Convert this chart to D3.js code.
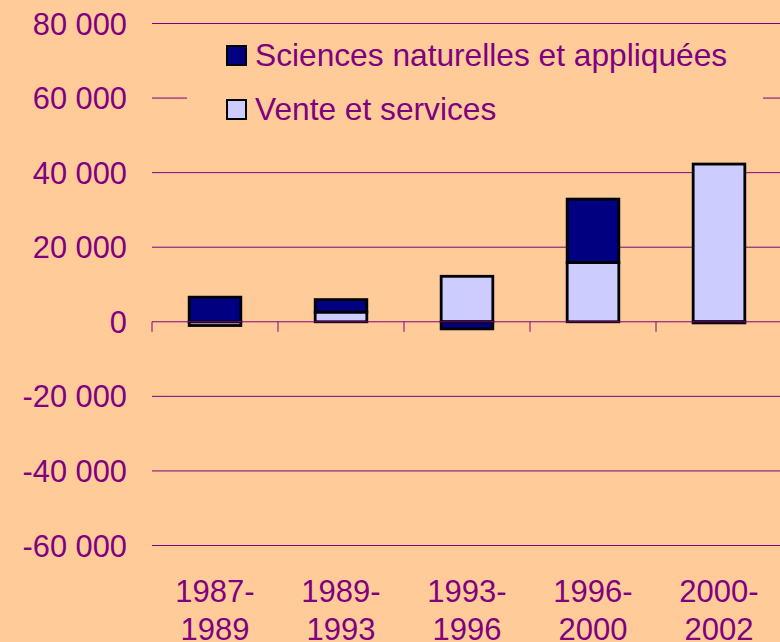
<!DOCTYPE html>
<html><head><meta charset="utf-8">
<script src="https://cdn.jsdelivr.net/npm/d3@7"></script>
<style>
html,body{margin:0;padding:0;background:#FFCC99;overflow:hidden}
svg{display:block;font-family:"Liberation Sans",Arial,sans-serif}
</style></head><body>
<svg id="c" width="780" height="642"></svg>
<script>
const categories = ["1987-1989","1989-1993","1993-1996","1996-2000","2000-2002"];
const sciences = [6600, 3350, -1900, 17000, -300];
const vente = [-1000, 2600, 12200, 15900, 42300];
const yTicks = [80000, 60000, 40000, 20000, 0, -20000, -40000, -60000];
const seriesNames = ["Sciences naturelles et appliquées", "Vente et services"];

const svg = d3.select("#c");
const purple = "#800080";
const navy = "#000080";
const lilac = "#CCCCFF";

const y = d3.scaleLinear().domain([-60000, 80000]).range([545.5, 23.5]);
const x = d3.scaleBand().domain(categories).range([152, 782]).padding(0);
const barW = x.bandwidth() * 0.41;

const fmt = v => v === 0 ? "0" : (v < 0 ? "-" : "") + d3.format(",")(Math.abs(v)).replace(/,/g, " ");

// gridlines
svg.append("g").selectAll("line").data(yTicks.filter(v => v !== 0)).join("line")
  .attr("x1", 152).attr("x2", 780)
  .attr("y1", d => y(d)).attr("y2", d => y(d))
  .attr("stroke", purple).attr("stroke-width", 1);

// y labels
svg.append("g").selectAll("text").data(yTicks).join("text")
  .attr("x", 127).attr("y", d => y(d)).attr("dy", "0.36em")
  .attr("text-anchor", "end").attr("fill", purple)
  .style("font-size", "30.8px").text(fmt);

// stack
const rows = categories.map((c, i) => ({cat: c, vente: vente[i], sciences: sciences[i]}));
const stack = d3.stack().keys(["vente", "sciences"]).offset(d3.stackOffsetDiverging);
const layers = stack(rows);
const colors = {vente: lilac, sciences: navy};

const gBars = svg.append("g");
layers.forEach(layer => {
  gBars.append("g").selectAll("rect").data(layer).join("rect")
    .attr("x", d => x(d.data.cat) + x.bandwidth() / 2 - barW / 2)
    .attr("width", barW)
    .attr("y", d => y(Math.max(d[0], d[1])))
    .attr("height", d => Math.abs(y(d[0]) - y(d[1])))
    .attr("fill", colors[layer.key])
    .attr("stroke", "#000").attr("stroke-width", 2.8);
});

// zero axis on top
const gAxis = svg.append("g");
gAxis.append("line").attr("x1", 152).attr("x2", 780)
  .attr("y1", y(0)).attr("y2", y(0)).attr("stroke", purple).attr("stroke-width", 1);
const tickXs = categories.map(c => x(c)).concat([x.range()[1]]);
gAxis.selectAll("line.t").data(tickXs).join("line").attr("class", "t")
  .attr("x1", d => d).attr("x2", d => d)
  .attr("y1", y(0)).attr("y2", y(0) + 10)
  .attr("stroke", purple).attr("stroke-width", 1);

// x labels
const gx = svg.append("g");
categories.forEach(c => {
  const [a, b] = c.split("-");
  const t = gx.append("text").attr("text-anchor", "middle").attr("fill", purple)
    .style("font-size", "31px");
  t.append("tspan").attr("x", x(c) + x.bandwidth() / 2).attr("y", 602).text(a + "-");
  t.append("tspan").attr("x", x(c) + x.bandwidth() / 2).attr("y", 640).text(b);
});

// legend
const lg = svg.append("g");
lg.append("rect").attr("x", 187).attr("y", 32).attr("width", 576).attr("height", 105)
  .attr("fill", "#FFCC99");
const legItems = [{name: seriesNames[0], color: navy, y: 45}, {name: seriesNames[1], color: lilac, y: 99}];
legItems.forEach(it => {
  lg.append("rect").attr("x", 227).attr("y", it.y + 1).attr("width", 19).attr("height", 19)
    .attr("fill", it.color).attr("stroke", "#000").attr("stroke-width", 2);
  lg.append("text").attr("x", 255).attr("y", it.y + 21).attr("fill", purple)
    .style("font-size", "31.7px").text(it.name);
});
</script>
</body></html>
